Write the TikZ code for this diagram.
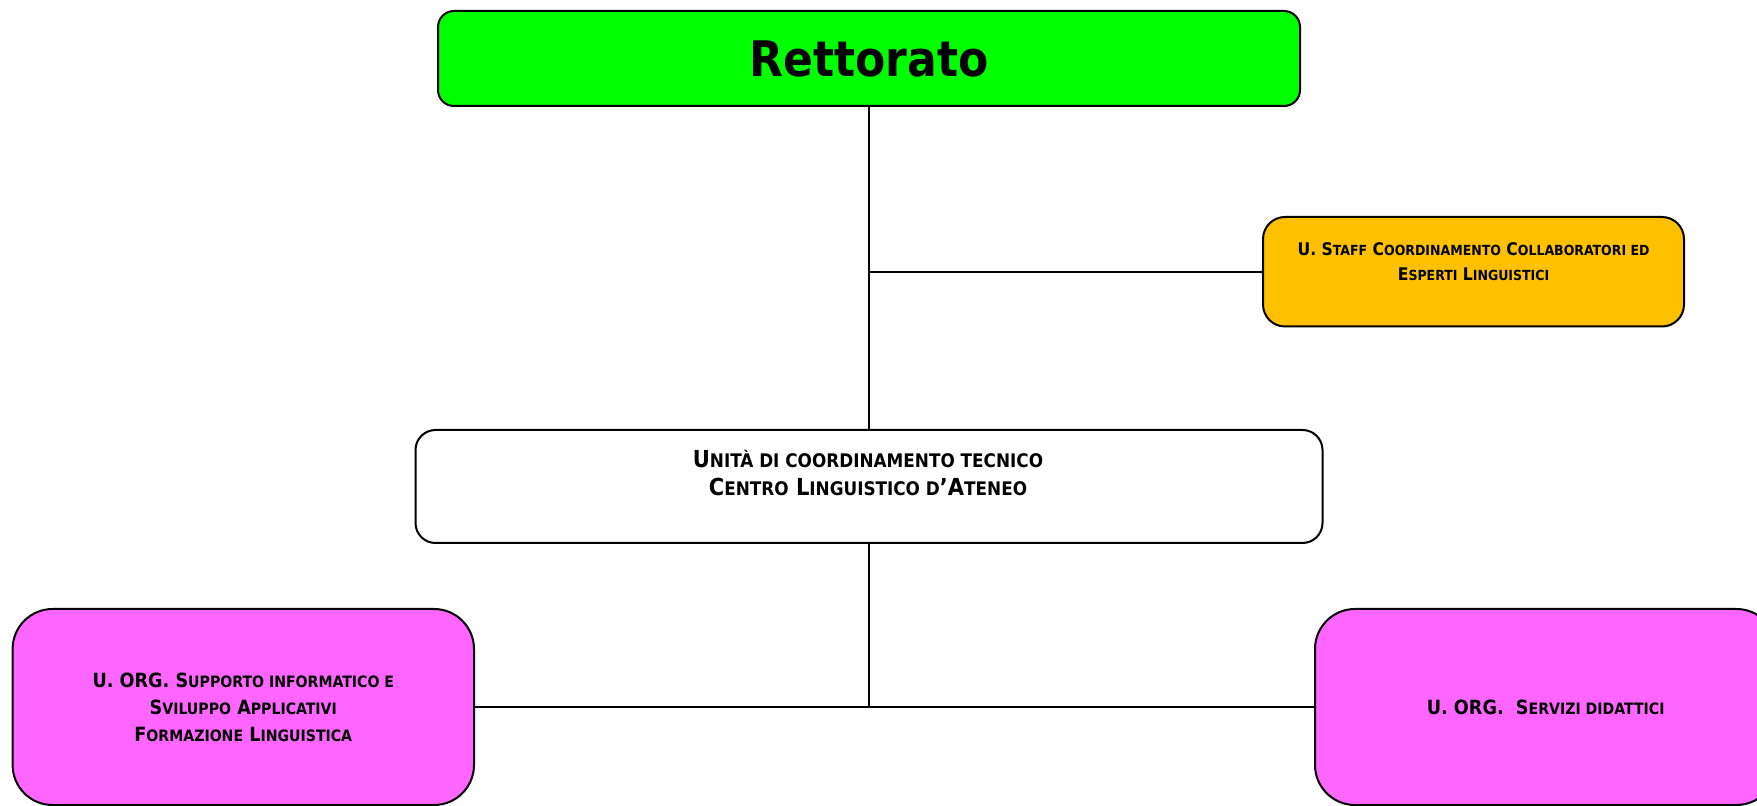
\documentclass[tikz,border=0pt]{standalone}
\usepackage{fontspec}
\setmainfont{DejaVu Sans Condensed}
\usepackage{tikz}
\usetikzlibrary{positioning}
\definecolor{rettgreen}{HTML}{00FF00}
\definecolor{staffgold}{HTML}{FFC000}
\definecolor{orgpink}{HTML}{FF66FF}
\makeatletter
\newcommand{\smc}[1]{{\fontsize{\fpeval{0.8*\f@size}}{\f@baselineskip}\selectfont #1}}
\makeatother
\tikzset{rett node/.style={rectangle,rounded corners=8pt,fill=rettgreen,draw,line width=1pt,minimum width=431pt,minimum height=47.5pt,inner sep=0pt,font=\fontsize{24.5}{28}\selectfont\bfseries},
unit node/.style={rectangle,rounded corners=10pt,fill=white,draw,line width=1pt,minimum width=453.5pt,minimum height=56.5pt,inner sep=0pt},
staff node/.style={rectangle,rounded corners=11pt,fill=staffgold,draw,line width=1pt,minimum width=210.5pt,minimum height=54.75pt,inner sep=0pt},
org node/.style={rectangle,rounded corners=20pt,fill=orgpink,draw,line width=1pt,minimum width=230.7pt,minimum height=98pt,inner sep=0pt,align=center,font=\fontsize{9.8}{13.5}\selectfont\bfseries},
label text/.style={inner sep=0pt,align=center}}

\begin{document}
\begin{tikzpicture}[x=0.5pt,y=-0.5pt]
            \useasboundingbox (0,0) rectangle (1757,806);
            \node[rett node] (R) at (869,58.5) {\raisebox{-1pt}{Rettorato}};
            \node[unit node] (C) [below=161pt of R] {};
            \node[staff node] (S) at (1473.5,271.75) {};
            \node[org node] (O1) at (243.3,707) {U. ORG. S\smc{UPPORTO INFORMATICO E}\\S\smc{VILUPPO} A\smc{PPLICATIVI}\\F\smc{ORMAZIONE} L\smc{INGUISTICA}};
            \node[org node] (O2) [right=419.5pt of O1] {U. ORG.\ \ S\smc{ERVIZI DIDATTICI}};
            \node[label text, font=\fontsize{11.7}{14}\selectfont\bfseries] (Ct) at (868,473) {U\smc{NITÀ DI COORDINAMENTO TECNICO}\\C\smc{ENTRO} L\smc{INGUISTICO D}’A\smc{TENEO}};
            \node[label text, font=\fontsize{8.7}{12.5}\selectfont\bfseries] (St) at (1473.5,262) {U. S\smc{TAFF} C\smc{OORDINAMENTO} C\smc{OLLABORATORI ED}\\E\smc{SPERTI} L\smc{INGUISTICI}};
            \coordinate (K) at (S.west -| R);
            \coordinate (J) at (C |- O1);

            \path[draw, line width=0.8pt]
            (R) edge (C)
            (S) edge (K)
            (C) edge (J)
            (O1) edge (O2);
        \end{tikzpicture}
\end{document}
